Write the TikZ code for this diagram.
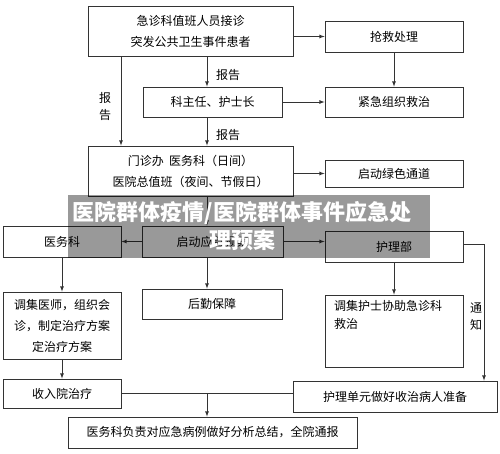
\documentclass[tikz,border=0pt]{standalone}
\usepackage{fontspec}
\setmainfont{Noto Sans CJK SC}
\usetikzlibrary{arrows}
\tikzset{
  box/.style={draw=black!80, line width=0.8pt, fill=white, inner sep=2pt, align=center, font=\fontsize{12}{21}\selectfont},
  lbl/.style={inner sep=0pt, align=center, font=\fontsize{12}{17}\selectfont},
  link/.style={draw=black!80, line width=0.8pt},
}

\begin{document}
\begin{tikzpicture}[x=1pt, y=-1pt, >=latex]
  \useasboundingbox (0,0) rectangle (500,454);
  \coordinate (cx) at (207,0);
  \coordinate (lx) at (121,0);
  \coordinate (tz) at (484,0);

  \node[box, minimum width=205, minimum height=50] (jz) at (190.5,31) {急诊科值班人员接诊\\突发公共卫生事件患者};
  \node[box, minimum width=138, minimum height=31] (qj) at (394,36.5) {抢救处理};
  \node[box, minimum width=139, minimum height=30] (kzr) at (212.5,102) {科主任、护士长};
  \node[box, minimum width=138, minimum height=30] (jjzz) at (394,102) {紧急组织救治};
  \node[box, minimum width=205, minimum height=50] (mzb) at (190.5,171) {门诊办\ \ 医务科（日间）\\医院总值班（夜间、节假日）};
  \node[box, minimum width=138, minimum height=27] (lstd) at (394,173.5) {启动绿色通道};
  \node[box, minimum width=118, minimum height=31] (ywk) at (62,241.5) {医务科};
  \node[box, minimum width=141, minimum height=31] (qdya) at (212.5,241.5) {启动应急预案};
  \node[box, minimum width=138, minimum height=31] (hlb) at (394,246.5) {护理部};
  \node[box, minimum width=140, minimum height=30] (hqbz) at (212,304) {后勤保障};
  \node[box, minimum width=118, minimum height=67] (djys) at (62,325.5) {调集医师，组织会\\诊，制定治疗方案\\定治疗方案};
  \node[box, minimum width=138, minimum height=72] (djhs) at (394,331) {};
  \node[lbl, anchor=north west, align=left, font=\fontsize{12}{18}\selectfont] (djhstxt) at (334,300) {调集护士协助急诊科\\救治};
  \node[box, minimum width=118, minimum height=29] (sryzl) at (62,393.5) {收入院治疗};
  \node[box, minimum width=204, minimum height=31] (hldy) at (395,396.5) {护理单元做好收治病人准备};
  \node[box, minimum width=289, minimum height=31] (zj) at (212.5,432.5) {医务科负责对应急病例做好分析总结，全院通报};

  \node[lbl] (bg1) at (228,75) {报告};
  \node[lbl] (bg2) at (228,135) {报告};
  \node[lbl] (bg3) at (105,106) {报\\告};
  \node[lbl] (tzlbl) at (476,317) {通\\知};

  \foreach \a/\b in {qj/jjzz, kzr/jjzz, ywk/djys, hlb/djhs, djys/sryzl}
  {
    \draw[link, ->] (\a) -- (\b) ;
  }
  \draw[link, ->] (jz.east |- qj) -- (qj.west) ;
  \draw[link, ->] (mzb.east |- lstd) -- (lstd.west) ;
  \draw[link, ->] (jz.south -| cx) -- (kzr.north -| cx) ;
  \draw[link, ->] (kzr.south -| cx) -- (mzb.north -| cx) ;
  \draw[link, ->] (jz.south -| lx) -- (mzb.north -| lx) ;
  \draw[link, ->] (mzb.south -| cx) -- (qdya.north -| cx) ;
  \draw[link, ->] (qdya.south -| cx) -- (hqbz.north -| cx) ;
  \draw[link, ->] (qdya.west) -- (ywk.east) ;
  \draw[link, ->] (qdya.east) -- (qdya.east -| hlb.west) ;
  \draw[link, ->] ([yshift=2pt]hlb.east) -| (tz |- hldy.north) ;
  \draw[link] (sryzl.east) -- (sryzl.east -| hldy.west) ;
  \draw[link, ->] (cx |- sryzl.east) -- (zj.north -| cx) ;

  \fill[black, fill opacity=0.4] (68,195) rectangle (430,258) ;
  \node[inner sep=0pt, align=center, text=white, font=\fontsize{22}{28}\selectfont\bfseries] (banner) at (242,226) {医院群体疫情/医院群体事件应急处\\理预案};
\end{tikzpicture}
\end{document}
